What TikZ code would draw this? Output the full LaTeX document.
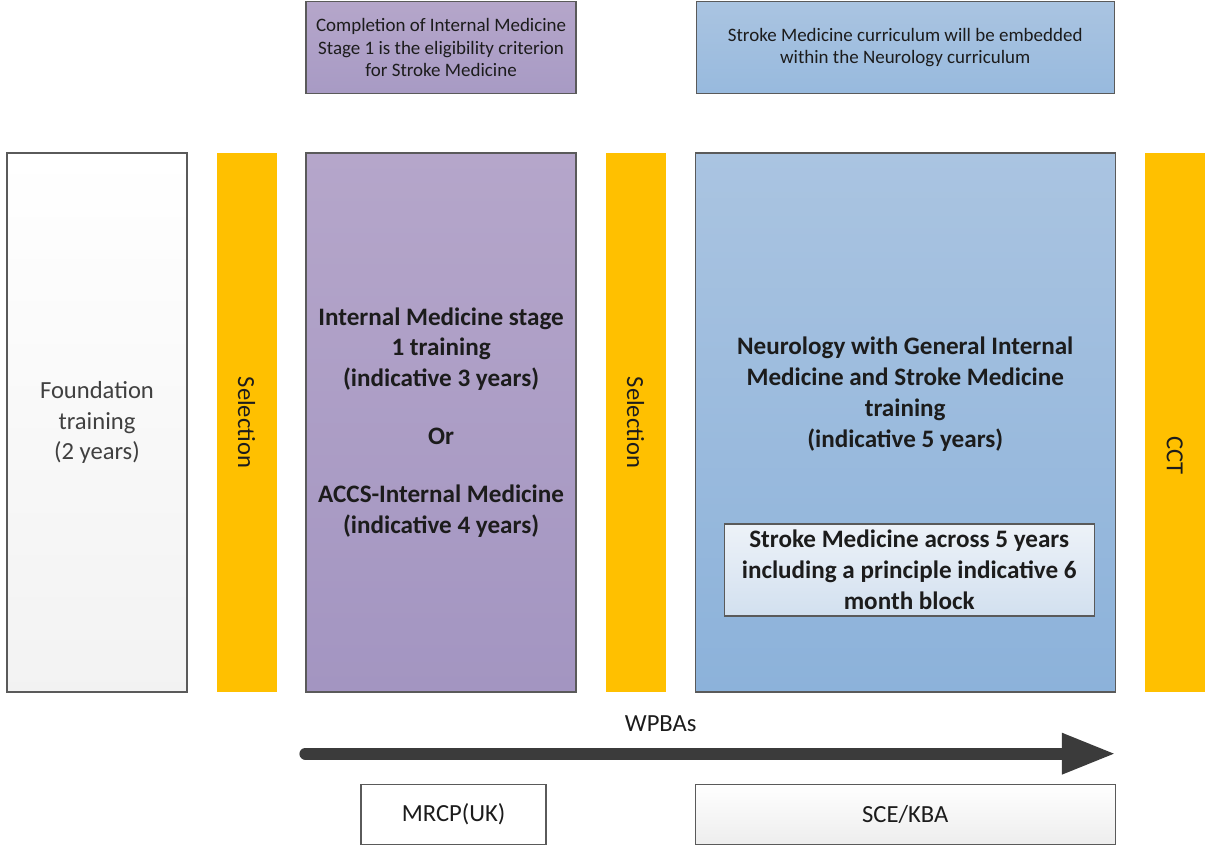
\documentclass[tikz,border=0pt]{standalone}
\usepackage{fontspec}
\setmainfont{Carlito}
\usetikzlibrary{positioning, calc, arrows.meta}
\definecolor{sel-orange}{HTML}{FFC000}
\definecolor{im-top}{HTML}{B5A6CA}
\definecolor{im-bot}{HTML}{A395C1}
\definecolor{neuro-top}{HTML}{AAC4E1}
\definecolor{neuro-bot}{HTML}{8CB2DA}
\definecolor{stroke-top}{HTML}{EDF2F8}
\definecolor{stroke-bot}{HTML}{D2E0EF}
\definecolor{box-line}{HTML}{5A5A5A}
\definecolor{text-dark}{HTML}{1C1C1C}
\definecolor{arrow-grey}{HTML}{3B3B3B}

\begin{document}
\begin{tikzpicture}[node distance=0.57cm,
  phase/.style={draw=box-line, line width=0.8pt, minimum height=10.78cm, inner sep=0pt, align=center, text=text-dark, font=\fontsize{14}{17.6}\selectfont},
  boldtext/.style={font=\fontsize{14.3}{17.6}\selectfont\bfseries},
  gate/.style={fill=sel-orange, minimum width=1.2cm, minimum height=10.78cm, inner sep=0pt, text=text-dark, font=\fontsize{14}{16}\selectfont},
  note/.style={draw=box-line, line width=0.8pt, minimum height=1.84cm, inner sep=0pt, align=center, text=text-dark, font=\fontsize{10.8}{13}\selectfont},
  exam/.style={draw=box-line, line width=0.8pt, minimum height=1.2cm, inner sep=0pt, text=text-dark, font=\fontsize{14}{16}\selectfont},
  flow/.style={line width=0.24cm, draw=arrow-grey, line cap=round, -{Triangle[length=1.08cm, width=0.76cm]}}]
\useasboundingbox (0,0) rectangle (24.1,16.9);

% training columns
\node[phase, minimum width=3.6cm, top color=white, bottom color=black!5, text=black!75] (found) at (1.94,8.45) {Foundation\\training\\(2 years)};
\node[gate, right=of found] (sel1) {\rotatebox{-90}{Selection}};
\node[phase, boldtext, minimum width=5.4cm, top color=im-top, bottom color=im-bot, right=of sel1] (im) {Internal Medicine stage\\1 training\\(indicative 3 years)\\[0.54cm]Or\\[0.54cm]ACCS-Internal Medicine\\(indicative 4 years)};
\node[gate, right=of im] (sel2) {\rotatebox{-90}{Selection}};
\node[phase, minimum width=8.4cm, top color=neuro-top, bottom color=neuro-bot, right=of sel2] (neuro) {};
\node[boldtext, align=center, text=text-dark] (neurotxt) at ($(neuro.center)+(0,0.56)$) {Neurology with General Internal\\Medicine and Stroke Medicine\\training\\(indicative 5 years)};
\node[gate, right=of neuro, label={[yshift=-0.66cm, text=text-dark, font=\fontsize{14}{16}\selectfont]center:\rotatebox{-90}{CCT}}] (cct) {};
\node[phase, boldtext, minimum width=7.4cm, minimum height=1.84cm, top color=stroke-top, bottom color=stroke-bot, above=1.52cm of neuro.south, xshift=0.08cm] (stroke) {Stroke Medicine across 5 years\\including a principle indicative 6\\month block};

% notes on top
\node[note, minimum width=5.4cm, top color=im-top, bottom color=im-bot!95!white, above=1.16cm of im] (imnote) {Completion of Internal Medicine\\Stage 1 is the eligibility criterion\\for Stroke Medicine};
\node[note, minimum width=8.36cm, top color=neuro-top, bottom color=neuro-bot!90!white, above=1.16cm of neuro] (neuronote) {Stroke Medicine curriculum will be embedded\\within the Neurology curriculum};

% assessments
\coordinate (wpstart) at ($(im.south west)+(0,-1.22)$);
\coordinate (wpend) at ($(neuro.south east)+(0,-1.22)$);
\draw[flow] (wpstart) -- (wpend);
\node[text=text-dark, font=\fontsize{14}{16}\selectfont] (wpba) at ($(sel2.south)+(0.5,-0.62)$) {WPBAs};
\node[exam, minimum width=3.7cm, fill=white, below=1.82cm of im, xshift=0.25cm] (mrcp) {MRCP(UK)};
\node[exam, minimum width=8.4cm, top color=white, bottom color=black!7, below=1.82cm of neuro] (sce) {SCE/KBA};
\end{tikzpicture}
\end{document}
